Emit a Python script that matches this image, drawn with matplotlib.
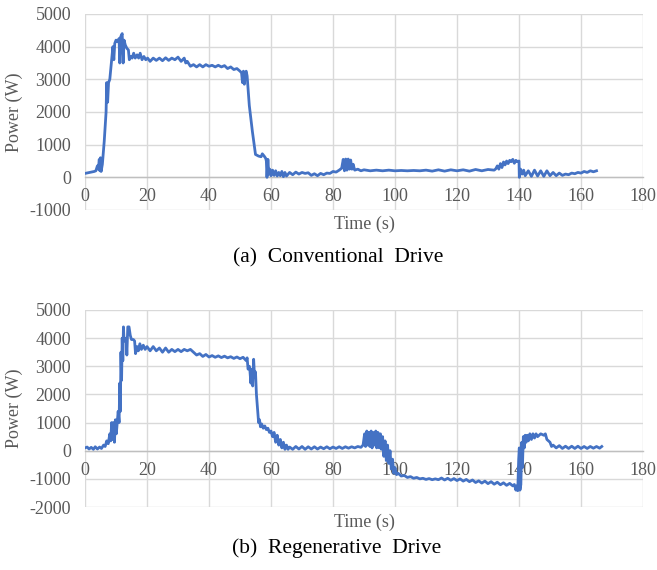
import matplotlib
matplotlib.use("Agg")
import matplotlib.pyplot as plt

# ---------------- data ----------------
conv_time = [0, 1, 2, 3, 3.5, 4, 4.3, 4.6, 4.8, 5.0, 5.2, 5.6, 6.2, 6.8, 7.0, 7.3, 7.6, 8.0, 8.5, 9.0,
             9.3, 9.6, 10.0, 10.5, 11.0, 11.2, 11.5, 12.0, 12.3, 12.6, 13.0, 13.5, 14.0, 14.3, 14.7, 15.2,
             15.7, 16.2, 16.8, 17.3, 17.8, 18.4, 19.0, 19.6, 20.2, 21, 22, 23, 24, 25, 26, 27, 28, 29, 30,
             31, 32, 32.5, 33, 34, 35, 36, 37, 38, 39, 40, 41, 42, 43, 44, 45, 46, 47, 48, 49, 50, 50.5,
             50.8, 51.1, 51.4, 51.7, 52.0, 52.3, 53, 54, 55, 56, 56.8, 57.2, 57.8, 58.3, 58.5, 58.7, 59.0,
             59.3, 59.6, 60, 60.5, 61, 61.5, 62, 62.5, 63, 63.5, 64, 64.5, 65, 66, 67, 68, 69, 70, 71, 72,
             73, 74, 75, 76, 77, 78, 79, 80, 81, 82, 82.8, 83.3, 83.7, 84.1, 84.5, 84.9, 85.3, 85.7, 86.1,
             86.5, 87, 88, 89, 90, 92, 94, 96, 98, 100, 102, 104, 106, 108, 110, 112, 114, 116, 118, 120,
             122, 124, 126, 128, 130, 132, 132.5, 133, 133.5, 134, 134.5, 135, 135.5, 136, 136.5, 137,
             137.5, 138, 138.5, 139, 139.5, 140, 140.1, 140.5, 141, 141.5, 142, 143, 144, 145, 146, 147,
             148, 149, 150, 151, 152, 153, 154, 155, 156, 157, 158, 159, 160, 161, 162, 163, 164, 165]
conv_power = [120, 140, 160, 180, 200, 350, 250, 550, 200, 600, 180, 400, 1100, 2000, 2900, 2300, 2900,
              3000, 3500, 4000, 3600, 4100, 4200, 4150, 4250, 3500, 4300, 4400, 3500, 4200, 4050, 3950,
              3900, 3600, 3700, 3650, 3800, 3650, 3750, 3650, 3800, 3600, 3700, 3600, 3650, 3550, 3650,
              3580, 3650, 3570, 3660, 3580, 3650, 3600, 3680, 3550, 3650, 3500, 3550, 3400, 3450, 3380,
              3450, 3380, 3450, 3400, 3430, 3380, 3430, 3380, 3420, 3330, 3380, 3300, 3330, 3250, 3200,
              2900, 3250, 2850, 3200, 3250, 3100, 2200, 1400, 700, 650, 630, 720, 650, 580, 500, 0, 550,
              100, 250, 50, 220, 60, 200, 40, 150, 50, 180, 20, 150, 40, 150, 80, 160, 100, 150, 120, 140,
              60, 110, 50, 120, 80, 130, 120, 180, 160, 220, 280, 550, 200, 560, 220, 560, 250, 530, 250,
              400, 220, 250, 200, 230, 200, 220, 200, 220, 200, 210, 200, 210, 200, 220, 190, 230, 190,
              230, 200, 230, 190, 240, 200, 240, 220, 260, 350, 250, 420, 300, 470, 380, 500, 420, 520,
              480, 550, 430, 520, 480, 500, 0, 250, 100, 220, 50, 200, 30, 220, 40, 200, 30, 200, 50, 150,
              50, 130, 60, 100, 80, 130, 110, 150, 130, 180, 150, 200, 170, 200]

regen_time = [0, 0.7, 1.3, 2, 2.7, 3.3, 4, 4.7, 5.3, 6, 6.5, 7, 7.5, 8, 8.3, 8.6, 8.9, 9.2, 9.5, 9.8,
              10.1, 10.4, 10.7, 11, 11.2, 11.4, 11.6, 11.8, 12.0, 12.2, 12.4, 12.6, 13.0, 13.3, 13.5,
              13.8, 14.2, 14.6, 15.0, 15.6, 16.0, 16.3, 16.8, 17.2, 17.7, 18.2, 18.8, 19.4, 20, 21, 22,
              23, 24, 25, 26, 27, 28, 29, 30, 31, 32, 33, 34, 35, 36, 37, 38, 39, 40, 41, 42, 43, 44, 45,
              46, 47, 48, 49, 50, 51, 52, 52.3, 52.6, 53.0, 53.2, 53.5, 53.8, 54.1, 54.4, 54.7, 55.0,
              55.3, 56.0, 56.3, 56.6, 57, 57.5, 58, 58.5, 59, 59.5, 60, 60.5, 61, 61.5, 62, 62.5, 63,
              63.5, 64, 64.5, 65, 65.5, 66, 67, 68, 69, 70, 71, 72, 73, 74, 75, 76, 77, 78, 79, 80, 81,
              82, 83, 84, 85, 86, 87, 88, 89, 89.7, 90.2, 90.5, 90.9, 91.2, 91.6, 91.9, 92.3, 92.6, 93,
              93.4, 93.8, 94.1, 94.5, 94.9, 95.3, 95.6, 96, 96.4, 96.8, 97.2, 97.6, 98, 98.4, 98.8, 99.2,
              99.6, 100, 100.5, 101, 102, 103, 104, 105, 106, 107, 108, 109, 110, 111, 112, 113, 114,
              115, 116, 117, 118, 119, 120, 121, 122, 123, 124, 125, 126, 127, 128, 129, 130, 131, 132,
              133, 134, 135, 136, 137, 138, 138.5, 139, 139.3, 139.6, 139.9, 140.1, 140.3, 140.6, 140.9,
              141.1, 141.4, 141.7, 142, 142.3, 142.7, 143, 143.5, 144, 144.5, 145, 145.5, 146, 146.5,
              147, 148, 148.5, 149, 150, 150.5, 151, 152, 153, 154, 155, 156, 157, 158, 159, 160, 161,
              162, 163, 164, 165, 166, 166.7]
regen_power = [100, 130, 60, 120, 50, 140, 60, 130, 80, 200, 150, 350, 250, 600, 350, 1000, 400, 1000,
               300, 1100, 600, 1000, 1400, 1000, 2400, 1400, 3500, 2500, 4000, 3200, 4400, 3900, 3900,
               4000, 3400, 4400, 4400, 4100, 3950, 3950, 3900, 3450, 3700, 3550, 3800, 3600, 3750, 3600,
               3700, 3550, 3700, 3550, 3650, 3500, 3650, 3500, 3600, 3520, 3600, 3520, 3600, 3550, 3600,
               3500, 3400, 3450, 3350, 3420, 3330, 3380, 3320, 3370, 3310, 3360, 3300, 3340, 3280, 3330,
               3270, 3320, 3200, 3300, 2900, 3000, 2850, 2400, 2900, 2300, 3250, 2600, 2800, 2000, 1000,
               1100, 850, 950, 800, 880, 750, 800, 650, 700, 500, 650, 300, 550, 200, 400, 100, 300, 50,
               200, 50, 130, 50, 150, 60, 150, 50, 140, 60, 140, 60, 130, 70, 140, 70, 130, 80, 140, 80,
               140, 90, 140, 100, 150, 120, 200, 600, 150, 700, 200, 650, 150, 700, 100, 650, 200, 700,
               100, 650, 100, 600, 50, 500, -200, 350, -350, 200, -450, 0, -650, -300, -800, -600, -850,
               -800, -900, -880, -950, -920, -980, -950, -1000, -980, -1020, -990, -1030, -1000, -1030,
               -970, -1040, -980, -1050, -990, -1060, -1000, -1080, -1020, -1100, -1040, -1130, -1070,
               -1150, -1080, -1170, -1100, -1190, -1120, -1210, -1140, -1230, -1160, -1250, -1200, -1400,
               -1250, -1420, -300, 100, -1400, -1200, 300, -600, 500, 100, 550, 300, 550, 350, 600, 400,
               600, 450, 600, 500, 550, 600, 550, 600, 400, 300, 150, 200, 100, 180, 80, 160, 80, 160, 80,
               160, 80, 150, 80, 150, 90, 150, 90, 150]

x_ticks = [0, 20, 40, 60, 80, 100, 120, 140, 160, 180]
conv_yticks = [-1000, 0, 1000, 2000, 3000, 4000, 5000]
regen_yticks = [-2000, -1000, 0, 1000, 2000, 3000, 4000, 5000]
x_label = "Time (s)"
y_label = "Power (W)"
captions = ["(a)  Conventional  Drive", "(b)  Regenerative  Drive"]

# ---------------- style ----------------
plt.rcParams['font.family'] = ['Liberation Serif', 'DejaVu Serif']
LINE = '#4472C4'
GRID = '#D9D9D9'
TXT = '#595959'
FS = 13

W, H = 657, 570
fig = plt.figure(figsize=(W / 100, H / 100), dpi=100)

def px_axes(left, top, right, bottom):
    return fig.add_axes([left / W, 1 - bottom / H, (right - left) / W, (bottom - top) / H])

ax1 = px_axes(85, 14, 643, 210)
ax2 = px_axes(85, 310, 643, 507)

def style(ax, t, p, yticks, xlab_off):
    ax.plot(t, p, color=LINE, lw=2.0, solid_joinstyle='round', zorder=3)
    ax.set_xlim(x_ticks[0], x_ticks[-1])
    ax.set_ylim(yticks[0], yticks[-1])
    ax.set_xticks(x_ticks)
    ax.set_yticks(yticks)
    ax.set_yticklabels([str(v) for v in yticks])
    ax.grid(True, color=GRID, lw=1.0, zorder=0)
    for s in ['top', 'right', 'left']:
        ax.spines[s].set_visible(False)
    ax.spines['bottom'].set_position(('data', 0))
    ax.spines['bottom'].set_color('#BFBFBF')
    ax.spines['bottom'].set_linewidth(1.0)
    ax.spines['bottom'].set_zorder(1)
    ax.tick_params(axis='x', length=0, pad=8, labelsize=FS, labelcolor=TXT)
    ax.tick_params(axis='y', length=0, pad=10, labelsize=FS, labelcolor=TXT)
    ax.set_axisbelow(True)
    ax.set_ylabel(y_label, fontsize=FS, color=TXT)
    ax.yaxis.set_label_coords(-62 / 558, 0.5)
    ax.text(0.5, xlab_off, x_label, transform=ax.transAxes, ha='center', va='center',
            fontsize=FS, color=TXT)

style(ax1, conv_time, conv_power, conv_yticks, -14 / 196)
style(ax2, regen_time, regen_power, regen_yticks, -15 / 197)

fig.text(338 / W, 1 - 258 / H, captions[0], ha='center', va='center', fontsize=15.5, color='black')
fig.text(337 / W, 1 - 548 / H, captions[1], ha='center', va='center', fontsize=15.5, color='black')

fig.savefig("out.png", dpi=100)
